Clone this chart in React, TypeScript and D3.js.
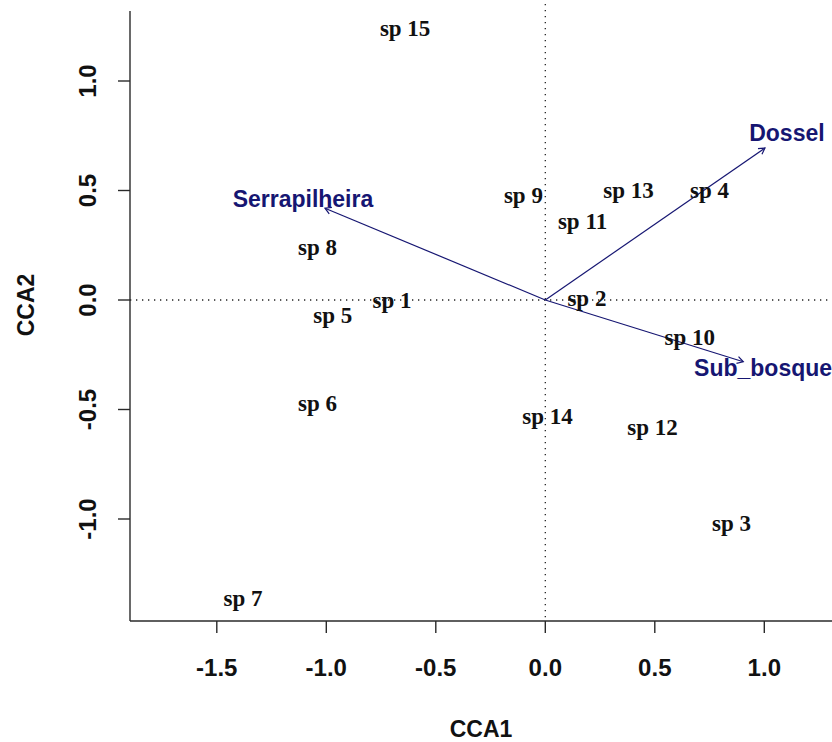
import React from "react";
import * as d3 from "d3";

const species = ["sp 1","sp 2","sp 3","sp 4","sp 5","sp 6","sp 7","sp 8","sp 9","sp 10","sp 11","sp 12","sp 13","sp 14","sp 15"];
const spCCA1 = [-0.70, 0.19, 0.85, 0.75, -0.97, -1.04, -1.38, -1.04, -0.10, 0.66, 0.17, 0.49, 0.38, 0.01, -0.64];
const spCCA2 = [0.00, 0.01, -1.02, 0.50, -0.07, -0.47, -1.36, 0.24, 0.48, -0.17, 0.36, -0.58, 0.50, -0.53, 1.24];

const envNames = ["Serrapilheira", "Dossel", "Sub_bosque"];
const envCCA1 = [-1.006, 1.003, 0.904];
const envCCA2 = [0.419, 0.694, -0.282];
const labelMult = 1.1;

const xTicks = [-1.5, -1.0, -0.5, 0.0, 0.5, 1.0];
const xTickLabels = ["-1.5", "-1.0", "-0.5", "0.0", "0.5", "1.0"];
const yTicks = [-1.0, -0.5, 0.0, 0.5, 1.0];
const yTickLabels = ["-1.0", "-0.5", "0.0", "0.5", "1.0"];

const W = 832, H = 742;
const left = 130, right = 832, top = 11, bottom = 621;
const ppu = 219;
const x0 = 545.3, y0 = 300;

export default function App() {
  const x = d3.scaleLinear().domain([(left - x0) / ppu, (right - x0) / ppu]).range([left, right]);
  const y = d3.scaleLinear().domain([(y0 - bottom) / ppu, (y0 - top) / ppu]).range([bottom, top]);
  const navy = "#161672";
  const axisCol = "#2a2a2a";
  const sansBold = "'Liberation Sans', Arial, sans-serif";
  const serif = "'Liberation Serif', 'Times New Roman', serif";

  const arrowHead = (x1: number, y1: number, x2: number, y2: number) => {
    const ang = Math.atan2(y2 - y1, x2 - x1);
    const len = 7;
    const a1 = ang + Math.PI - Math.PI / 6;
    const a2 = ang + Math.PI + Math.PI / 6;
    return `M${x2 + len * Math.cos(a1)},${y2 + len * Math.sin(a1)}L${x2},${y2}L${x2 + len * Math.cos(a2)},${y2 + len * Math.sin(a2)}`;
  };

  return (
    <svg width={W} height={H} style={{ position: "absolute", left: 0, top: 0, background: "#fff" }}>
      <rect width={W} height={H} fill="#fff" />
      {/* dotted reference lines */}
      <line x1={left} x2={right} y1={y(0)} y2={y(0)} stroke="#222" strokeWidth={1.3} strokeDasharray="1.3 4.7" />
      <line x1={x(0)} x2={x(0)} y1={4} y2={bottom} stroke="#222" strokeWidth={1.3} strokeDasharray="1.3 4.7" />

      {/* axes */}
      <line x1={left} x2={left} y1={top} y2={bottom} stroke={axisCol} strokeWidth={1.4} />
      <line x1={left} x2={right} y1={bottom} y2={bottom} stroke={axisCol} strokeWidth={1.4} />
      {xTicks.map((t, i) => (
        <g key={"xt" + i}>
          <line x1={x(t)} x2={x(t)} y1={bottom} y2={bottom + 12} stroke={axisCol} strokeWidth={1.4} />
          <text x={x(t)} y={bottom + 55} textAnchor="middle" fontFamily={sansBold} fontWeight="bold" fontSize={24} fill="#111">{xTickLabels[i]}</text>
        </g>
      ))}
      {yTicks.map((t, i) => (
        <g key={"yt" + i}>
          <line x1={left - 12} x2={left} y1={y(t)} y2={y(t)} stroke={axisCol} strokeWidth={1.4} />
          <text transform={`translate(${95.5},${y(t)}) rotate(-90)`} textAnchor="middle" fontFamily={sansBold} fontWeight="bold" fontSize={24} fill="#111">{yTickLabels[i]}</text>
        </g>
      ))}
      <text x={481} y={737} textAnchor="middle" fontFamily={sansBold} fontWeight="bold" fontSize={23} fill="#111">CCA1</text>
      <text transform={`translate(34,305) rotate(-90)`} textAnchor="middle" fontFamily={sansBold} fontWeight="bold" fontSize={23} fill="#111">CCA2</text>

      {/* env arrows */}
      {envNames.map((n, i) => {
        const x1 = x(0), y1 = y(0), x2 = x(envCCA1[i]), y2 = y(envCCA2[i]);
        return (
          <g key={"env" + i}>
            <line x1={x1} y1={y1} x2={x2} y2={y2} stroke={navy} strokeWidth={1.2} />
            <path d={arrowHead(x1, y1, x2, y2)} fill="none" stroke={navy} strokeWidth={1.2} />
          </g>
        );
      })}

      {/* species labels */}
      {species.map((s, i) => (
        <text key={"sp" + i} x={x(spCCA1[i])} y={y(spCCA2[i]) + 7.8} textAnchor="middle" fontFamily={serif} fontWeight="bold" fontSize={23} fill="#111">{s}</text>
      ))}

      {/* env labels */}
      {envNames.map((n, i) => (
        <text key={"envl" + i} x={x(envCCA1[i] * labelMult)} y={y(envCCA2[i] * labelMult) + 8.2} textAnchor="middle" fontFamily={sansBold} fontWeight="bold" fontSize={23} fill={navy}>{n}</text>
      ))}
    </svg>
  );
}
